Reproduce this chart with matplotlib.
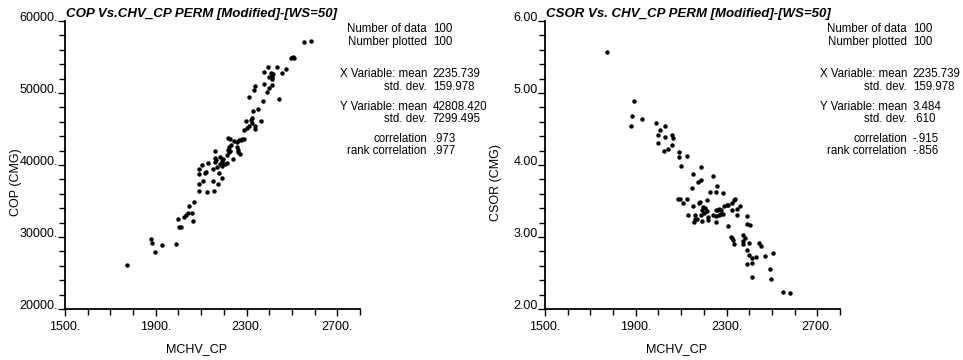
import matplotlib

matplotlib.use("Agg")
import matplotlib.pyplot as plt
from matplotlib.ticker import FixedLocator, MultipleLocator

plt.rcParams["font.family"] = ["Liberation Sans", "DejaVu Sans"]

# COP vs MCHV_CP
cop_x = [1775, 1880, 1884, 1896, 1929, 1988, 2000, 2003, 2009, 2026,
         2032, 2040, 2046, 2061, 2064, 2070, 2090, 2091, 2090, 2090,
         2104, 2109, 2119, 2126, 2130, 2152, 2152, 2155, 2159, 2161,
         2167, 2171, 2174, 2180, 2184, 2185, 2190, 2191, 2194, 2198,
         2206, 2213, 2216, 2217, 2217, 2222, 2225, 2223, 2227, 2242,
         2256, 2258, 2264, 2261, 2272, 2267, 2275, 2281, 2290, 2288,
         2296, 2310, 2311, 2320, 2325, 2329, 2326, 2338, 2338, 2335,
         2338, 2349, 2364, 2374, 2377, 2375, 2393, 2391, 2397, 2401,
         2407, 2412, 2417, 2413, 2435, 2445, 2456, 2472, 2495, 2503,
         2507, 2552, 2584, 2230, 2245, 2190, 2120, 2160, 2410, 2300]
cop_y = [26060, 29670, 29210, 27870, 28890, 29070, 32450, 31340, 31430, 32820,
         33050, 33380, 34300, 33380, 32170, 34900, 39400, 38750, 37360, 36390,
         39950, 37780, 38890, 36290, 40230, 39440, 37780, 36390, 41940, 40460,
         40690, 39770, 37360, 38890, 40140, 41160, 38190, 40510, 39860, 40790,
         40140, 40230, 41430, 42130, 43700, 42550, 43560, 41800, 41990, 40880,
         42550, 43150, 41760, 42080, 41530, 43470, 43470, 43560, 43660, 44860,
         46060, 45420, 49490, 46250, 46570, 47550, 45880, 45420, 44950, 50420,
         50970, 47820, 46160, 48840, 51250, 52870, 53660, 50140, 50740, 52180,
         52730, 52180, 52640, 51900, 53610, 49210, 52820, 53290, 54810, 54950,
         54910, 57080, 57180, 42800, 43300, 40300, 39000, 41000, 51100, 45100]

# CSOR vs MCHV_CP
csor_x = [1775, 1894, 1883, 1878, 1928, 1988, 2006, 2029, 2000, 2030,
          2059, 2065, 1997, 2025, 2042, 2058, 2091, 2090, 2125, 2100,
          2188, 2152, 2239, 2186, 2174, 2148, 2257, 2225, 2255, 2284,
          2087, 2094, 2106, 2126, 2152, 2177, 2181, 2196, 2204, 2213,
          2213, 2219, 2219, 2191, 2186, 2191, 2159, 2162, 2157, 2129,
          2252, 2261, 2268, 2277, 2255, 2268, 2275, 2284, 2252, 2290,
          2307, 2322, 2333, 2336, 2326, 2348, 2359, 2346, 2307, 2320,
          2325, 2328, 2335, 2388, 2390, 2403, 2371, 2371, 2371, 2400,
          2390, 2397, 2412, 2412, 2390, 2410, 2432, 2441, 2452, 2470,
          2503, 2491, 2494, 2548, 2578, 2200, 2240, 2170, 2300, 2380]
csor_y = [5.565, 4.889, 4.685, 4.542, 4.639, 4.583, 4.481, 4.537, 4.412, 4.394,
          4.417, 4.380, 4.310, 4.190, 4.218, 4.282, 4.185, 4.116, 4.120, 3.991,
          3.968, 3.870, 3.847, 3.792, 3.764, 3.681, 3.713, 3.625, 3.620, 3.611,
          3.532, 3.532, 3.477, 3.528, 3.431, 3.468, 3.486, 3.412, 3.403, 3.514,
          3.361, 3.282, 3.236, 3.375, 3.306, 3.218, 3.301, 3.245, 3.208, 3.301,
          3.370, 3.370, 3.384, 3.375, 3.292, 3.301, 3.315, 3.319, 3.213, 3.431,
          3.440, 3.468, 3.514, 3.532, 3.370, 3.389, 3.431, 3.310, 3.157, 3.005,
          2.982, 2.958, 2.903, 3.287, 3.181, 3.162, 3.023, 2.940, 2.907, 2.921,
          2.815, 2.750, 2.704, 2.634, 2.620, 2.440, 2.722, 2.921, 2.880, 2.731,
          2.773, 2.560, 2.412, 2.241, 2.227, 3.330, 3.300, 3.250, 3.450, 2.980]

x_ticks = [1500, 1900, 2300, 2700]
x_labels = ["1500.", "1900.", "2300.", "2700."]
cop_ticks = [20000, 30000, 40000, 50000, 60000]
cop_labels = ["20000.", "30000.", "40000.", "50000.", "60000."]
csor_ticks = [2, 3, 4, 5, 6]
csor_labels = ["2.00", "3.00", "4.00", "5.00", "6.00"]

stat_names = ["Number of data", "Number plotted", "X Variable: mean", "std. dev.",
              "Y Variable: mean", "std. dev.", "correlation", "rank correlation"]
cop_stats = ["100", "100", "2235.739", "159.978", "42808.420", "7299.495", ".973", ".977"]
csor_stats = ["100", "100", "2235.739", "159.978", "3.484", ".610", "-.915", "-.856"]

W, H = 963, 360
fig = plt.figure(figsize=(W / 100, H / 100), dpi=100)


def panel(left_px, xs, ys, ylim, yticks, ylabels, yminor, ylabel, title, stats):
    ax = fig.add_axes([left_px / W, (H - 309) / H, 295 / W, 288 / H])
    ax.plot(xs, ys, "o", color="black", ms=3.2, mew=0)
    ax.set_xlim(1500, 2800)
    ax.set_ylim(*ylim)
    ax.xaxis.set_major_locator(FixedLocator(x_ticks))
    ax.set_xticklabels(x_labels)
    ax.xaxis.set_minor_locator(MultipleLocator(100))
    ax.yaxis.set_major_locator(FixedLocator(yticks))
    ax.set_yticklabels(ylabels)
    ax.yaxis.set_minor_locator(MultipleLocator(yminor))
    for s in ("top", "right"):
        ax.spines[s].set_visible(False)
    for s in ("left", "bottom"):
        ax.spines[s].set_linewidth(1.3)
    ax.tick_params(which="both", direction="out", width=1, color="black", labelsize=9)
    ax.tick_params(which="major", length=5)
    ax.tick_params(which="minor", length=4)
    ax.tick_params(axis="y", pad=0)
    ax.tick_params(axis="x", pad=4)
    for lab in ax.get_yticklabels():
        lab.set_va("baseline")
    ax.set_xlabel("MCHV_CP", fontsize=9)
    ax.xaxis.set_label_coords(0.447, -0.118)
    ax.set_ylabel(ylabel, fontsize=9)
    ax.yaxis.set_label_coords(-0.146, 0.44)
    ax.text(0.003, 1.025, title, transform=ax.transAxes, fontsize=9.5,
            fontweight="bold", fontstyle="italic", va="center", ha="left")
    rows = [29, 42, 74, 87, 107, 119, 139, 151]
    for name, val, r in zip(stat_names, stats, rows):
        yy = (309 - r) / 288
        ax.text(1.227, yy, name, transform=ax.transAxes, fontsize=8.3,
                ha="right", va="center", clip_on=False)
        ax.text(1.247, yy, val, transform=ax.transAxes, fontsize=8.3,
                ha="left", va="center", clip_on=False)
    return ax


panel(65, cop_x, cop_y, (20000, 60000), cop_ticks, cop_labels, 2000,
      "COP (CMG)", "COP Vs.CHV_CP PERM [Modified]-[WS=50]", cop_stats)
panel(545, csor_x, csor_y, (2, 6), csor_ticks, csor_labels, 0.2,
      "CSOR (CMG)", "CSOR Vs. CHV_CP PERM [Modified]-[WS=50]", csor_stats)

fig.savefig("out.png", dpi=100)
